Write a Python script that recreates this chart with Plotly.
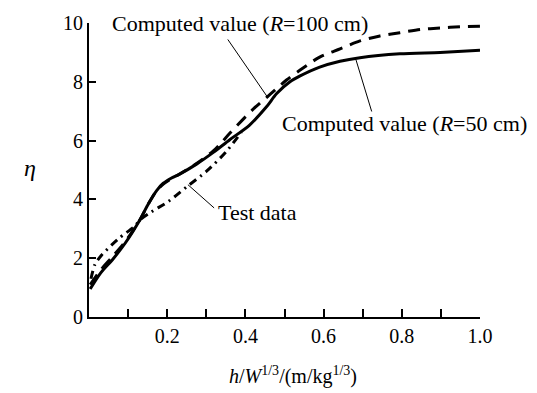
import plotly.graph_objects as go

# Computed value (R=50 cm) - solid
x_r50 = [0.003, 0.03, 0.06, 0.092, 0.13, 0.152, 0.173, 0.19, 0.21, 0.233, 0.275, 0.318,
         0.36, 0.41, 0.454, 0.48, 0.514, 0.54, 0.59, 0.642, 0.693, 0.795, 0.898, 1.0]
y_r50 = [0.95, 1.5, 1.95, 2.5, 3.3, 3.85, 4.3, 4.55, 4.72, 4.87, 5.2, 5.6,
         6.03, 6.52, 7.15, 7.6, 8.0, 8.2, 8.5, 8.7, 8.82, 8.95, 9.0, 9.07]

# Computed value (R=100 cm) - dashed
x_r100 = [0.003, 0.03, 0.06, 0.092, 0.13, 0.152, 0.173, 0.19, 0.21, 0.233, 0.275, 0.318,
          0.34, 0.36, 0.42, 0.463, 0.506, 0.54, 0.59, 0.642, 0.693, 0.744, 0.795, 0.847,
          0.898, 0.949, 1.0]
y_r100 = [1.1, 1.6, 2.05, 2.55, 3.3, 3.85, 4.3, 4.52, 4.7, 4.87, 5.22, 5.65,
          5.95, 6.25, 7.07, 7.57, 8.07, 8.4, 8.84, 9.12, 9.39, 9.56, 9.67, 9.78,
          9.83, 9.87, 9.89]

# Test data - dash-dot
x_test = [0.005, 0.015, 0.032, 0.075, 0.118, 0.13, 0.16, 0.203, 0.25, 0.30, 0.352, 0.39]
y_test = [1.3, 1.78, 2.1, 2.66, 3.1, 3.3, 3.58, 3.93, 4.43, 4.95, 5.64, 6.3]

x_tickvals = [0.2, 0.4, 0.6, 0.8, 1.0]
x_ticktext = ["0.2", "0.4", "0.6", "0.8", "1.0"]
y_tickvals = [0, 2, 4, 6, 8, 10]
y_ticktext = ["0", "2", "4", "6", "8", "10"]

FONT = "Liberation Serif"
FS = 20
FA = 22

W, H = 537, 393
L, R, T, B = 89, 57, 15, 76
PW, PH = W - L - R, H - T - B


def px(xp):
    return (xp - L) / PW


def py(yp):
    return (H - B - yp) / PH


fig = go.Figure()
fig.add_trace(go.Scatter(x=x_r100, y=y_r100, mode="lines",
                         line=dict(color="black", width=3, dash="12px,8px", shape="spline", smoothing=0.8),
                         showlegend=False))
fig.add_trace(go.Scatter(x=x_r50, y=y_r50, mode="lines",
                         line=dict(color="black", width=3, shape="spline", smoothing=0.8), showlegend=False))
fig.add_trace(go.Scatter(x=x_test, y=y_test, mode="lines",
                         line=dict(color="black", width=3, dash="8px,5px,2px,5px", shape="spline", smoothing=0.8),
                         showlegend=False))

# leader lines
for (x0, y0, x1, y1) in [(0.355, 9.44, 0.458, 7.45), (0.683, 8.74, 0.723, 6.99), (0.253, 4.5, 0.32, 3.71)]:
    fig.add_shape(type="line", x0=x0, y0=y0, x1=x1, y1=y1, xref="x", yref="y",
                  line=dict(color="black", width=1))

fig.add_annotation(x=0.054, y=9.97, xref="x", yref="y", text="Computed value (<i>R</i>=100 cm)", showarrow=False,
                   xanchor="left", yanchor="middle", font=dict(family=FONT, size=FA, color="black"))
fig.add_annotation(x=0.488, y=6.59, xref="x", yref="y", text="Computed value (<i>R</i>=50 cm)", showarrow=False,
                   xanchor="left", yanchor="middle", font=dict(family=FONT, size=FA, color="black"))
fig.add_annotation(x=0.325, y=3.54, xref="x", yref="y", text="Test data", showarrow=False,
                   xanchor="left", yanchor="middle", font=dict(family=FONT, size=FA, color="black"))

# axis titles
fig.add_annotation(x=px(30), y=py(164), xref="paper", yref="paper", text="<i>η</i>", showarrow=False,
                   xanchor="center", yanchor="middle", font=dict(family=FONT, size=24, color="black"))
fig.add_annotation(x=px(293), y=py(377), xref="paper", yref="paper",
                   text="<i>h</i>/<i>W</i><sup>1/3</sup>/(m/kg<sup>1/3</sup>)", showarrow=False,
                   xanchor="center", yanchor="middle", font=dict(family=FONT, size=FS, color="black"))

fig.update_layout(
    width=W, height=H,
    margin=dict(l=L, r=R, t=T, b=B),
    paper_bgcolor="white", plot_bgcolor="white",
    font=dict(family=FONT, size=FS, color="black"),
    xaxis=dict(range=[0, 1.0], showgrid=False, zeroline=False, showline=True, linecolor="black", linewidth=2,
               ticks="inside", ticklen=8, tickwidth=1.5, tickcolor="black",
               tickvals=x_tickvals, ticktext=x_ticktext, tickfont=dict(family=FONT, size=FS),
               minor=dict(tick0=0, dtick=0.1, ticks="inside", ticklen=8, tickwidth=1.5, tickcolor="black",
                          showgrid=False)),
    yaxis=dict(range=[0, 10], showgrid=False, zeroline=False, showline=True, linecolor="black", linewidth=2,
               ticks="inside", ticklen=7, tickwidth=1.5, tickcolor="black",
               tickvals=y_tickvals, ticktext=y_ticktext, tickfont=dict(family=FONT, size=FS)),
)

fig.write_html("out.html")
